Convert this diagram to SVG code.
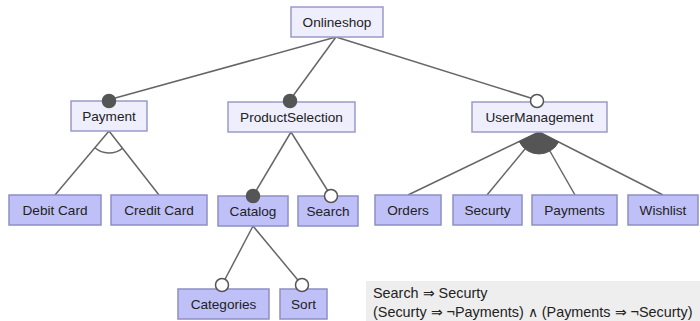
<svg xmlns="http://www.w3.org/2000/svg" width="700" height="321" viewBox="0 0 700 321">
<style>
.top{fill:#eeeefd;stroke:#9a9ac8;stroke-width:1.5}
.leaf{fill:#bfc0f8;stroke:#8d8fc4;stroke-width:1.5}
.lbl{font-family:"Liberation Sans",Arial,sans-serif;font-size:13.6px;fill:#222;text-anchor:middle}
.edge{stroke:#666;stroke-width:1.5;fill:none}
.fdot{fill:#555;stroke:#555;stroke-width:1.5}
.odot{fill:#fff;stroke:#555;stroke-width:1.5}
.cons{font-family:"Liberation Sans",Arial,sans-serif;font-size:14.4px;fill:#222}
</style>
<rect width="700" height="321" fill="#fff"/>
<g id="connectors">
<line class="edge" x1="336" y1="37" x2="108" y2="100"/>
<line class="edge" x1="336" y1="37" x2="290" y2="100"/>
<line class="edge" x1="336" y1="37" x2="537" y2="100"/>
<line class="edge" x1="109" y1="131" x2="55" y2="195"/>
<line class="edge" x1="109" y1="131" x2="159" y2="195"/>
<path class="edge" d="M94.8 147.8 A22 22 0 0 0 122.5 148.3"/>
<line class="edge" x1="291" y1="132" x2="253" y2="196"/>
<line class="edge" x1="291" y1="132" x2="331" y2="196"/>
<line class="edge" x1="539" y1="132" x2="408" y2="195"/>
<line class="edge" x1="539" y1="132" x2="487" y2="195"/>
<line class="edge" x1="539" y1="132" x2="575" y2="195"/>
<line class="edge" x1="539" y1="132" x2="663" y2="195"/>
<path d="M539 132 L519.2 141.5 A22 22 0 0 0 558.6 142 Z" fill="#555" stroke="#555" stroke-width="1"/>
<line class="edge" x1="253" y1="226" x2="222" y2="285"/>
<line class="edge" x1="253" y1="226" x2="302" y2="285"/>
</g>
<g id="Onlineshop"><rect class="top" x="291" y="7" width="92" height="30"/><text class="lbl" x="337" y="26.5">Onlineshop</text></g>
<g id="Payment"><rect class="top" x="71" y="101" width="76" height="30"/><text class="lbl" x="109" y="120.5">Payment</text><circle class="fdot" cx="109" cy="101" r="6.5"/></g>
<g id="ProductSelection"><rect class="top" x="228" y="102" width="127" height="30"/><text class="lbl" x="291.5" y="121.5">ProductSelection</text><circle class="fdot" cx="290" cy="101" r="6.5"/></g>
<g id="UserManagement"><rect class="top" x="472" y="102" width="135" height="30"/><text class="lbl" x="539.5" y="121.5">UserManagement</text><circle class="odot" cx="537" cy="101" r="6.5"/></g>
<g id="DebitCard"><rect class="leaf" x="9" y="195" width="92" height="30"/><text class="lbl" x="55" y="214.5">Debit Card</text></g>
<g id="CreditCard"><rect class="leaf" x="111" y="195" width="96" height="30"/><text class="lbl" x="159" y="214.5">Credit Card</text></g>
<g id="Catalog"><rect class="leaf" x="218" y="196" width="70" height="30"/><text class="lbl" x="253" y="215.5">Catalog</text><circle class="fdot" cx="253" cy="196" r="6.5"/></g>
<g id="Search"><rect class="leaf" x="298" y="196" width="60" height="30"/><text class="lbl" x="328" y="215.5">Search</text><circle class="odot" cx="331" cy="196" r="6.5"/></g>
<g id="Orders"><rect class="leaf" x="375" y="195" width="66" height="30"/><text class="lbl" x="408" y="214.5">Orders</text></g>
<g id="Securty"><rect class="leaf" x="453" y="195" width="69" height="30"/><text class="lbl" x="487.5" y="214.5">Securty</text></g>
<g id="Payments"><rect class="leaf" x="532" y="195" width="85" height="30"/><text class="lbl" x="574.5" y="214.5">Payments</text></g>
<g id="Wishlist"><rect class="leaf" x="628" y="195" width="70" height="30"/><text class="lbl" x="663" y="214.5">Wishlist</text></g>
<g id="Categories"><rect class="leaf" x="178" y="289" width="91" height="30"/><text class="lbl" x="223.5" y="308.5">Categories</text><circle class="odot" cx="222" cy="285" r="6.5"/></g>
<g id="Sort"><rect class="leaf" x="280" y="289" width="47" height="30"/><text class="lbl" x="303.5" y="308.5">Sort</text><circle class="odot" cx="302" cy="285" r="6.5"/></g>
<g id="constraints">
<rect x="366" y="281" width="334" height="40" fill="#eeeeee"/>
<text class="cons" x="373" y="297.5">Search ⇒ Securty</text>
<text class="cons" x="373" y="317">(Securty ⇒ ¬Payments) ∧ (Payments ⇒ ¬Securty)</text>
</g>
</svg>
